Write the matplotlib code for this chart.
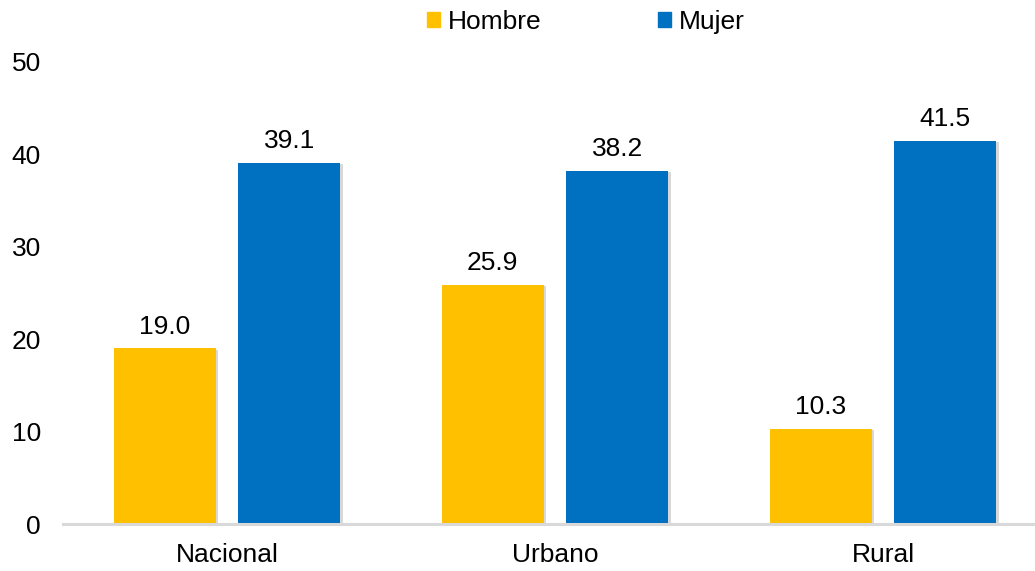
import matplotlib.pyplot as plt
import matplotlib.patheffects as pe
from matplotlib.patches import Patch
import numpy as np

categories = ['Nacional', 'Urbano', 'Rural']
hombre = [19.0, 25.9, 10.3]
mujer = [39.1, 38.2, 41.5]
yticks = [0, 10, 20, 30, 40, 50]

plt.rcParams['font.family'] = ['Liberation Sans', 'DejaVu Sans']
fs = 19

fig = plt.figure(figsize=(10.35, 5.71), dpi=100, facecolor='white')
ax = fig.add_axes([63 / 1035, 47 / 571, 984 / 1035, 462 / 571])

x = np.arange(len(categories))
width = 0.31
offset = 0.19

# light excel-like shadow on the bars
shadow = [pe.SimplePatchShadow(offset=(2, -1), shadow_rgbFace='#BFBFBF', alpha=0.6), pe.Normal()]

b1 = ax.bar(x - offset, hombre, width, color='#FFC000', path_effects=shadow)
b2 = ax.bar(x + offset, mujer, width, color='#0070C0', path_effects=shadow)

for bars, vals in [(b1, hombre), (b2, mujer)]:
    for bar, v in zip(bars, vals):
        ax.annotate(f'{v:.1f}', (bar.get_x() + bar.get_width() / 2, v),
                    xytext=(0, 7), textcoords='offset points',
                    ha='center', va='bottom', fontsize=fs, color='black')

ax.set_xlim(-0.5, 2.5)
ax.set_ylim(0, 50)
ax.set_yticks(yticks)
ax.set_xticks(x)
ax.set_xticklabels(categories)
ax.tick_params(axis='both', length=0, labelsize=fs)
ax.tick_params(axis='y', pad=16)
ax.tick_params(axis='x', pad=14)

for s in ['top', 'right', 'left']:
    ax.spines[s].set_visible(False)
ax.spines['bottom'].set_color('#D9D9D9')
ax.spines['bottom'].set_linewidth(2.2)

handles = [Patch(color='#FFC000', label='Hombre'), Patch(color='#0070C0', label='Mujer')]
fig.legend(handles=handles, loc='center', bbox_to_anchor=(586 / 1035, 1 - 22 / 571), ncol=2,
           frameon=False, fontsize=fs, handlelength=0.5, handleheight=0.5,
           handletextpad=0.3, columnspacing=4.4, borderaxespad=0)

fig.savefig('out.png', dpi=100, facecolor='white')
